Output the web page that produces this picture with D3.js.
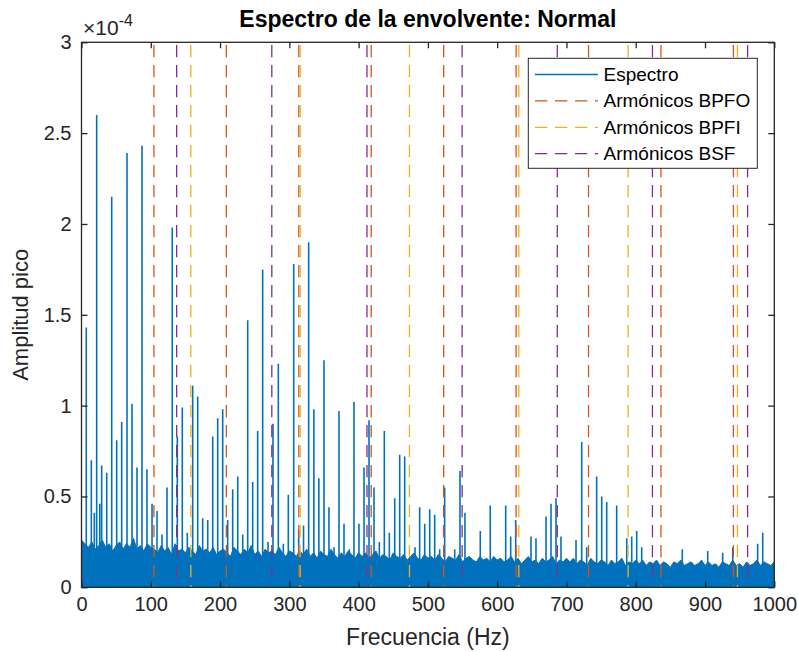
<!DOCTYPE html>
<html>
<head>
<meta charset="utf-8">
<script src="https://cdn.jsdelivr.net/npm/d3@7"></script>
<style>
  body { margin: 0; background: #fff; }
  svg text { font-family: "Liberation Sans", Arial, Helvetica, sans-serif; }
</style>
</head>
<body>
<div class="chart"></div>
<script>
// Envelope spectrum, amplitudes in units of 1e-4
// dominant spectral lines: [freq Hz, amplitude]
var peaks = [
  [6.9, 1.43], [14.2, 0.70], [18.5, 0.41], [21.9, 2.60], [26.3, 0.46], [29.1, 0.67],
  [36.4, 0.63], [43.6, 2.15], [50.8, 0.81], [58.0, 0.91], [65.7, 2.39], [72.9, 1.01],
  [80.1, 0.66], [87.3, 2.43], [94.5, 0.65], [101.8, 0.46], [109.0, 0.42], [116.2, 0.29],
  [123.4, 0.55], [131.0, 1.98], [138.3, 0.83], [145.5, 0.99], [152.7, 0.30], [160.5, 1.11],
  [167.7, 1.05], [174.9, 0.38], [182.2, 0.37], [189.4, 0.83], [196.6, 0.93], [203.8, 0.98],
  [211.0, 0.37], [218.2, 0.54], [225.5, 0.61], [232.7, 0.29], [239.9, 1.47], [247.1, 0.58],
  [254.3, 0.86], [261.5, 1.75], [269.2, 0.25], [276.4, 0.90], [284.1, 1.23], [291.3, 0.24],
  [298.5, 0.51], [306.3, 1.78], [313.5, 0.32], [320.5, 0.34], [327.9, 1.90], [335.4, 0.98],
  [342.6, 0.60], [350.0, 1.25], [357.2, 0.44], [364.5, 0.22], [371.7, 0.97], [378.9, 0.35],
  [386.6, 0.21], [393.3, 1.02], [400.5, 0.35], [407.8, 0.66], [415.0, 0.92], [422.2, 0.55],
  [429.9, 0.25], [437.1, 0.86], [444.3, 0.30], [452.1, 0.49], [459.3, 0.73], [466.5, 0.72],
  [481.4, 0.22], [488.1, 0.44], [495.4, 0.35], [502.6, 0.43], [509.8, 0.40], [517.0, 0.21],
  [524.2, 0.55], [538.7, 0.21], [546.3, 0.64], [553.5, 0.41], [575.6, 0.31], [590.0, 0.45],
  [612.3, 0.45], [619.5, 0.28], [626.7, 0.37], [648.8, 0.28], [656.0, 0.27], [670.5, 0.39],
  [677.7, 0.46], [684.9, 0.49], [692.1, 0.28], [713.8, 0.26], [722.0, 0.80], [729.2, 0.22],
  [743.6, 0.61], [750.9, 0.50], [758.1, 0.47], [772.5, 0.45], [787.0, 0.27], [794.2, 0.28],
  [801.4, 0.31], [808.6, 0.22], [867.2, 0.21], [903.9, 0.20], [925.5, 0.19], [940.0, 0.22],
  [976.0, 0.24], [983.3, 0.30]
];

// noise floor level read every 5 Hz from 0 to 1000 Hz
var noiseStep = 5;
var noiseTop = [
  0.26,0.24,0.22,0.25,0.21,0.23,0.26,0.22,0.24,0.20,0.23,0.25,0.21,0.24,0.22,0.27,0.21,0.23,0.20,0.24,0.22,
  0.21,0.19,0.23,0.20,0.22,0.18,0.24,0.20,0.21,0.19,0.22,0.20,0.18,0.23,0.20,0.21,0.19,0.22,0.18,0.20,
  0.21,0.19,0.17,0.22,0.20,0.18,0.21,0.19,0.23,0.18,0.20,0.17,0.21,0.19,0.20,0.18,0.22,0.19,0.17,0.20,
  0.19,0.17,0.20,0.18,0.21,0.17,0.19,0.16,0.20,0.18,0.17,0.21,0.18,0.16,0.19,0.17,0.20,0.18,0.16,0.19,
  0.17,0.19,0.16,0.18,0.20,0.16,0.18,0.17,0.15,0.19,0.17,0.16,0.18,0.15,0.17,0.19,0.16,0.15,0.18,0.16,
  0.17,0.15,0.18,0.16,0.14,0.17,0.16,0.15,0.18,0.14,0.16,0.17,0.15,0.14,0.17,0.15,0.16,0.14,0.17,0.15,
  0.16,0.14,0.15,0.17,0.14,0.16,0.13,0.15,0.17,0.14,0.15,0.13,0.16,0.14,0.15,0.17,0.13,0.15,0.14,0.16,
  0.14,0.16,0.13,0.15,0.14,0.12,0.16,0.14,0.13,0.15,0.14,0.12,0.15,0.13,0.14,0.16,0.12,0.14,0.13,0.15,
  0.13,0.15,0.12,0.14,0.13,0.15,0.12,0.14,0.13,0.11,0.14,0.13,0.15,0.12,0.13,0.14,0.12,0.13,0.15,0.12,
  0.14,0.12,0.13,0.11,0.14,0.13,0.12,0.15,0.12,0.13,0.11,0.14,0.12,0.13,0.15,0.12,0.14,0.13,0.12,0.14
];

// fault frequency harmonics (Hz)
var bpfo = [104.55, 209.1, 313.65, 418.2, 522.75, 627.3, 731.85, 836.4, 940.95];
var bpfi = [157.8, 315.6, 473.4, 631.2, 789.0, 946.8];
var bsf  = [137.35, 274.7, 412.05, 549.4, 686.75, 824.1, 961.45];

var xTicks = [0, 100, 200, 300, 400, 500, 600, 700, 800, 900, 1000];
var yTicks = [0, 0.5, 1, 1.5, 2, 2.5, 3];

var legendItems = [
  { label: 'Espectro', color: '#0072BD', dash: null },
  { label: 'Armónicos BPFO', color: '#D95319', dash: '12.3,7.7' },
  { label: 'Armónicos BPFI', color: '#EDB120', dash: '12.3,7.7' },
  { label: 'Armónicos BSF', color: '#7E2F8E', dash: '12.3,7.7' }
];

var W = 798, H = 652;
var pLeft = 81.5, pRight = 774.3, pTop = 42.3, pBottom = 587.3;
var axisColor = '#262626';

var svg = d3.select('.chart')
  .append('svg')
  .attr('width', W)
  .attr('height', H);

var x = d3.scaleLinear().domain([0, 1000]).range([pLeft, pRight]);
var y = d3.scaleLinear().domain([0, 3]).range([pBottom, pTop]);

svg.append('clipPath').attr('id', 'clip')
  .append('rect')
  .attr('x', pLeft).attr('y', pTop)
  .attr('width', pRight - pLeft).attr('height', pBottom - pTop);

var inner = svg.append('g').attr('clip-path', 'url(#clip)');

// noise floor band
var area = d3.area()
  .x((d, i) => x(i * noiseStep))
  .y0(y(0))
  .y1(d => y(d));

inner.append('path')
  .datum(noiseTop)
  .attr('d', area)
  .style('fill', '#0072BD')
  .style('stroke', '#0072BD')
  .style('stroke-width', 1);

// spectral lines
var stems = [];
peaks.forEach(p => {
  stems.push([p[0], 0]);
  stems.push([p[0], p[1]]);
  stems.push([p[0], 0]);
});
var line = d3.line()
  .x(d => x(d[0]))
  .y(d => y(d[1]));

inner.append('path')
  .datum(stems)
  .attr('d', line)
  .style('fill', 'none')
  .style('stroke', '#0072BD')
  .style('stroke-width', 1.6);

// harmonic markers
function drawHarmonics(freqs, color) {
  inner.selectAll(null)
    .data(freqs)
    .enter()
    .append('line')
    .attr('x1', d => x(d)).attr('x2', d => x(d))
    .attr('y1', y(3)).attr('y2', y(0))
    .style('stroke', color)
    .style('stroke-width', 1.3)
    .style('stroke-dasharray', '12.3,7.7')
    .style('stroke-dashoffset', 17.3);
}
drawHarmonics(bpfo, '#D95319');
drawHarmonics(bpfi, '#EDB120');
drawHarmonics(bsf, '#7E2F8E');

// axes (box with inward ticks)
function styleAxis(g) {
  g.select('.domain').remove();
  g.selectAll('.tick line').style('stroke', axisColor).style('stroke-width', 1.3);
  g.selectAll('.tick text')
    .style('fill', axisColor)
    .style('font-size', '20px');
}

svg.append('g')
  .attr('transform', 'translate(0,' + pBottom + ')')
  .call(d3.axisBottom(x).tickValues(xTicks).tickSize(-6).tickPadding(10).tickFormat(d => d))
  .call(styleAxis);

svg.append('g')
  .attr('transform', 'translate(0,' + pTop + ')')
  .call(d3.axisTop(x).tickValues(xTicks).tickSize(-6).tickFormat(''))
  .call(styleAxis);

svg.append('g')
  .attr('transform', 'translate(' + pLeft + ',0)')
  .call(d3.axisLeft(y).tickValues(yTicks).tickSize(-6).tickPadding(10).tickFormat(d => d))
  .call(styleAxis);

svg.append('g')
  .attr('transform', 'translate(' + pRight + ',0)')
  .call(d3.axisRight(y).tickValues(yTicks).tickSize(-6).tickFormat(''))
  .call(styleAxis);

svg.append('rect')
  .attr('x', pLeft).attr('y', pTop)
  .attr('width', pRight - pLeft).attr('height', pBottom - pTop)
  .style('fill', 'none')
  .style('stroke', axisColor)
  .style('stroke-width', 1.3);

// exponent label
var expo = svg.append('text')
  .attr('x', 83)
  .attr('y', 35)
  .style('fill', axisColor)
  .style('font-size', '21px');
expo.append('tspan').text('\u00d710');
expo.append('tspan').attr('dy', -9).style('font-size', '16px').text('-4');

// title and axis labels
svg.append('text')
  .attr('x', (pLeft + pRight) / 2)
  .attr('y', 27)
  .style('text-anchor', 'middle')
  .style('font-size', '23px')
  .style('font-weight', 'bold')
  .style('fill', '#000')
  .text('Espectro de la envolvente: Normal');

svg.append('text')
  .attr('x', (pLeft + pRight) / 2)
  .attr('y', 645)
  .style('text-anchor', 'middle')
  .style('font-size', '23px')
  .style('fill', axisColor)
  .text('Frecuencia (Hz)');

svg.append('text')
  .attr('transform', 'translate(28,' + ((pTop + pBottom) / 2) + ') rotate(-90)')
  .style('text-anchor', 'middle')
  .style('font-size', '22px')
  .style('fill', axisColor)
  .text('Amplitud pico');

// legend
var lg = svg.append('g');
lg.append('rect')
  .attr('x', 528.3).attr('y', 58.3)
  .attr('width', 229).attr('height', 110)
  .style('fill', '#fff')
  .style('stroke', axisColor)
  .style('stroke-width', 1);

var rows = lg.selectAll('.row')
  .data(legendItems)
  .enter()
  .append('g')
  .attr('class', 'row')
  .attr('transform', (d, i) => 'translate(0,' + (74.5 + i * 26.4) + ')');

rows.append('line')
  .attr('x1', 535).attr('x2', 598)
  .attr('y1', 0).attr('y2', 0)
  .style('stroke', d => d.color)
  .style('stroke-width', 1.3)
  .style('stroke-dasharray', d => d.dash);

rows.append('text')
  .attr('x', 603.5)
  .attr('y', 6.5)
  .style('font-size', '19px')
  .style('fill', '#000')
  .text(d => d.label);
</script>
</body>
</html>
